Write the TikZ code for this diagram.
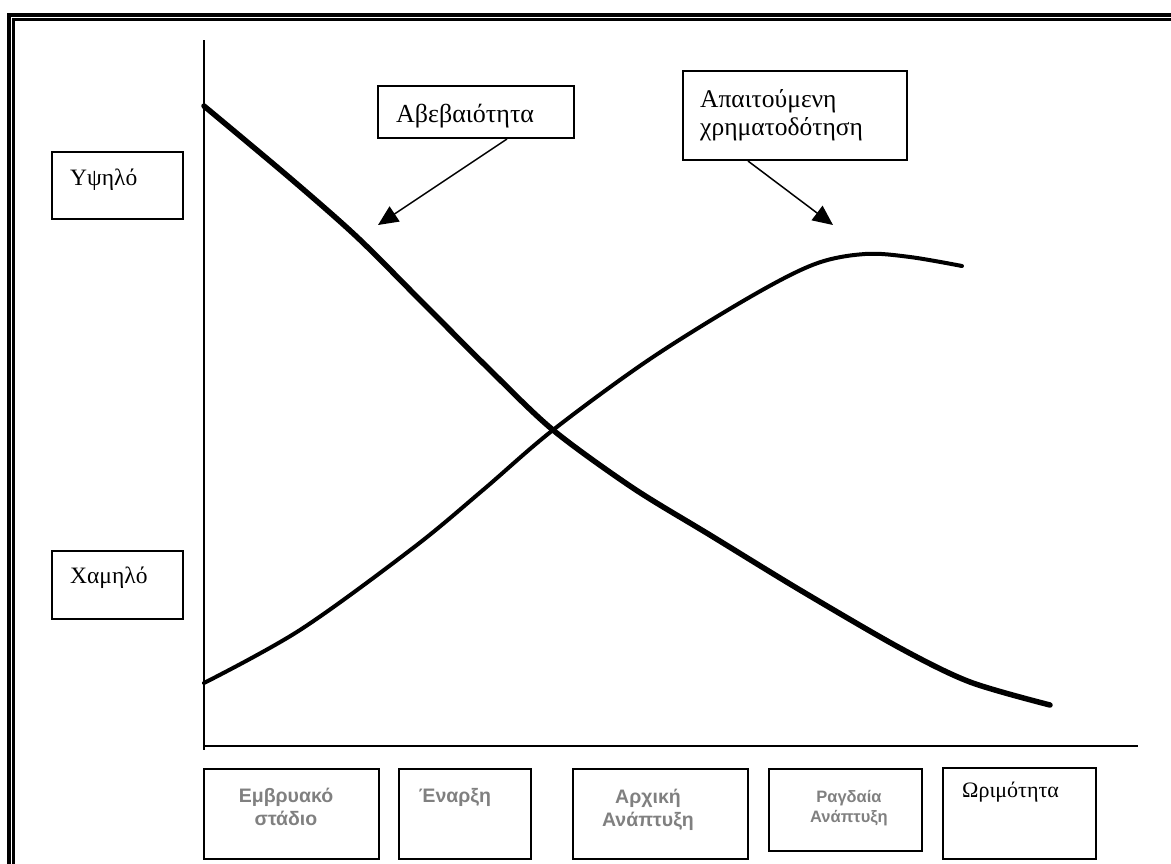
\documentclass[tikz,border=0pt]{standalone}
\usepackage{fontspec}
\setmainfont{Liberation Serif}
\newfontfamily\stagesans{Liberation Sans}
\usetikzlibrary{arrows.meta}
\definecolor{stagegray}{HTML}{808080}

\begin{document}
\begin{tikzpicture}[x=1pt,y=-1pt,
  box/.style={draw=black,line width=2pt,inner sep=0pt,anchor=north west},
  serif/.style={font=\fontsize{23.5}{28}\selectfont,inner sep=0pt,anchor=base west},
  serifbig/.style={serif,font=\fontsize{26}{30}\selectfont},
  serifmid/.style={serif,font=\fontsize{25.5}{30}\selectfont},
  serifsmall/.style={serif,font=\fontsize{22}{26}\selectfont},
  stage/.style={font=\stagesans\bfseries\fontsize{19.5}{23}\selectfont,text=stagegray,inner sep=0pt,anchor=base},
  stagesmall/.style={stage,font=\stagesans\bfseries\fontsize{16.5}{20}\selectfont},
  pointer/.style={line width=1.5pt,-{Triangle[length=20pt,width=18pt]}},
  axis/.style={line width=2pt},
  uncertcurve/.style={line width=5.5pt,line cap=round},
  fundcurve/.style={line width=4pt,line cap=round},
]
\useasboundingbox (0,0) rectangle (1171,863);
\clip (0,0) rectangle (1171,863);

% double page frame
\draw[line width=4pt] (9,900) -- (9,15) -- (1200,15);
\draw[line width=2.5pt] (13.5,900) -- (13.5,19.5) -- (1200,19.5);

% axes
\coordinate (ytop) at (203.5,40);
\coordinate (origin) at (203.5,746);
\coordinate (xend) at (1138,746);
\draw[axis] (ytop) -- (203.5,750);
\draw[axis] (origin) -- (xend);

% level boxes
\node[box,minimum width=131pt,minimum height=67pt] (high) at (51,151) {};
\node[serif] (hightxt) at (70,185) {Υψηλό};
\node[box,minimum width=131pt,minimum height=68pt] (low) at (51,550) {};
\node[serif] (lowtxt) at (70,583) {Χαμηλό};

% curve labels
\node[box,minimum width=196pt,minimum height=52pt] (uncert) at (377,85) {};
\node[serifbig] (uncerttxt) at (396,122) {Αβεβαιότητα};
\node[box,minimum width=224pt,minimum height=89pt] (fund) at (682,70) {};
\node[serifmid] (fundtxta) at (700,107) {Απαιτούμενη};
\node[serifmid] (fundtxtb) at (700,135) {χρηματοδότηση};

% stage boxes
\node[box,minimum width=175pt,minimum height=90pt] (s1) at (203,768) {};
\node[stage] (s1a) at (286,802) {Εμβρυακό};
\node[stage] (s1b) at (286,825) {στάδιο};
\node[box,minimum width=132pt,minimum height=90pt] (s2) at (398,768) {};
\node[stage] (s2a) at (455,802) {Έναρξη};
\node[box,minimum width=175pt,minimum height=90pt] (s3) at (572,768) {};
\node[stage] (s3a) at (648,803) {Αρχική};
\node[stage] (s3b) at (648,826) {Ανάπτυξη};
\node[box,minimum width=153pt,minimum height=82pt] (s4) at (768,768) {};
\node[stagesmall] (s4a) at (849,802) {Ραγδαία};
\node[stagesmall] (s4b) at (849,822) {Ανάπτυξη};
\node[box,minimum width=153pt,minimum height=91pt] (s5) at (942,767) {};
\node[serifsmall] (s5a) at (962,797) {Ωριμότητα};

% uncertainty curve
\draw[uncertcurve] plot[smooth,tension=0.5] coordinates {
  (204,106) (290,178) (357,237) (423,303) (490,370) (553,430)
  (633,488) (710,535) (800,590) (900,648) (970,682) (1050,705)};

% required funding curve
\draw[fundcurve] plot[smooth,tension=0.55] coordinates {
  (204,683) (300,630) (413,548) (483,490) (553,430) (650,359)
  (750,297) (815,264) (865,254) (910,257) (962,266)};

% pointers from the labels
\coordinate (uncerttip) at (378,225);
\coordinate (fundtip) at (833,225);
\draw[pointer] ([xshift=130pt]uncert.south west) -- (uncerttip);
\draw[pointer] ([xshift=66pt]fund.south west) -- (fundtip);
\end{tikzpicture}
\end{document}
